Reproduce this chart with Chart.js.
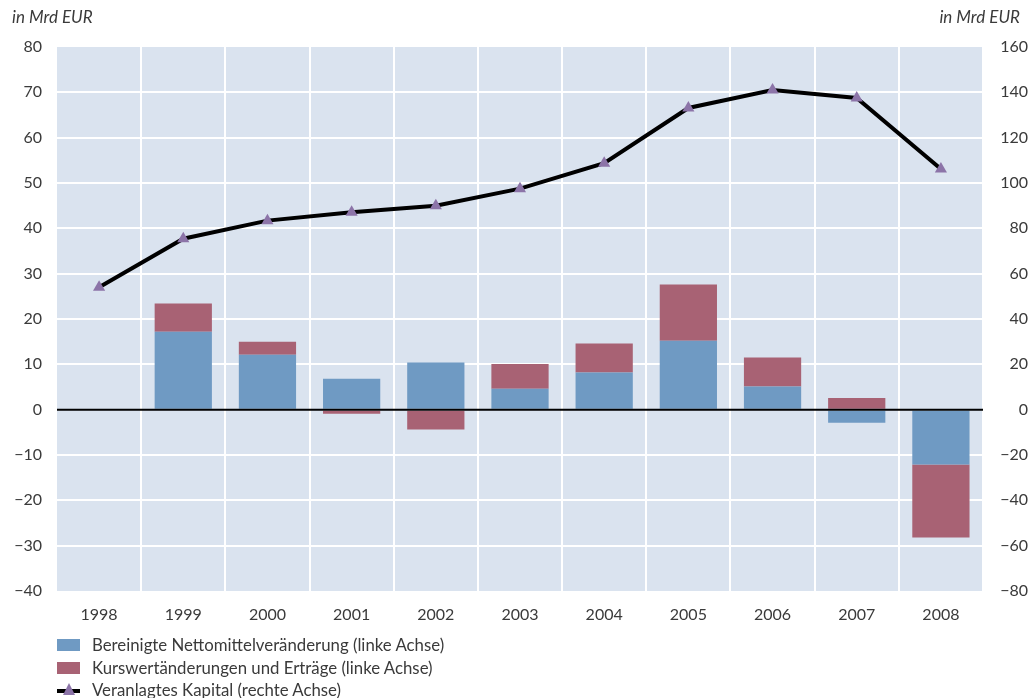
<!DOCTYPE html>
<html>
<head>
<meta charset="utf-8">
<script src="https://cdn.jsdelivr.net/npm/chart.js@4.4.1/dist/chart.umd.min.js"></script>
<style>
  body { margin: 0; background: #fff; font-family: Lato, "Open Sans", sans-serif; color: #3a3a3a; }
  #wrap { position: relative; width: 1033px; height: 698px; overflow: hidden; }
  #chart { position: absolute; left: 0; top: 0; }
  .unit { position: absolute; top: 6px; font-size: 17px; font-style: italic; color: #3a3a3a; }
  #legend { position: absolute; left: 57px; top: 634px; font-size: 16.8px; color: #3a3a3a; }
  #legend div { height: 22.5px; line-height: 22px; position: relative; padding-left: 35px; white-space: nowrap; }
  #legend .box { position: absolute; left: 0; top: 5px; width: 23px; height: 12px; }
  #legend .ln { position: absolute; left: 0; top: 10px; width: 23px; height: 4px; background: #000; }
  #legend .tri { position: absolute; left: 6px; top: 4px; width: 0; height: 0;
    border-left: 6px solid transparent; border-right: 6px solid transparent; border-bottom: 12px solid #8c74a8; }
</style>
</head>
<body>
<div id="wrap">
  <canvas id="chart" width="1033" height="698"></canvas>
  <div class="unit" style="left:12px;">in Mrd EUR</div>
  <div class="unit" style="right:13px;">in Mrd EUR</div>
  <div id="legend">
    <div><span class="box" style="background:#6f9ac3"></span>Bereinigte Nettomittelveränderung (linke Achse)</div>
    <div><span class="box" style="background:#a86274"></span>Kurswertänderungen und Erträge (linke Achse)</div>
    <div><span class="ln"></span><span class="tri"></span>Veranlagtes Kapital (rechte Achse)</div>
  </div>
</div>
<script>
var years = ["1998", "1999", "2000", "2001", "2002", "2003", "2004", "2005", "2006", "2007", "2008"];
var nettomittel = [null, 17.2, 12.1, 6.8, 10.4, 4.6, 8.2, 15.2, 5.1, -2.9, -12.1];
var kurswert = [null, 6.2, 2.9, -0.9, -4.4, 5.5, 6.4, 12.4, 6.4, 2.6, -16.1];
var kapital = [54, 75.4, 83.4, 87.1, 90.0, 97.5, 108.7, 133.1, 141, 137.5, 106.2];

var fontTicks = { family: "Lato, 'Open Sans', sans-serif", size: 16 };
var tickColor = "#3a3a3a";

function minus(v) {
	return v < 0 ? "\u2212" + Math.abs(v) : "" + v;
}

// plot background + zero line on top of the bars
var plotDecor = {
	id: "plotDecor",
	beforeDraw: function (chart) {
		var a = chart.chartArea, c = chart.ctx;
		c.save();
		c.fillStyle = "#dae3ef";
		c.fillRect(a.left, a.top, a.right - a.left, a.bottom - a.top);
		c.restore();
	},
	afterDatasetsDraw: function (chart) {
		var a = chart.chartArea, c = chart.ctx;
		var y0 = chart.scales.y.getPixelForValue(0);
		c.save();
		c.strokeStyle = "#000";
		c.lineWidth = 2;
		c.beginPath();
		c.moveTo(a.left, y0);
		c.lineTo(a.right, y0);
		c.stroke();
		c.restore();
	}
};

new Chart(document.getElementById("chart"), {
	type: "bar",
	data: {
		labels: years,
		datasets: [
			{
				type: "line",
				label: "Veranlagtes Kapital (rechte Achse)",
				data: kapital,
				yAxisID: "y1",
				borderColor: "#000",
				borderWidth: 4,
				pointStyle: "triangle",
				pointRadius: 7,
				pointBackgroundColor: "#8c74a8",
				pointBorderColor: "#8c74a8",
				pointBorderWidth: 0,
				tension: 0,
				order: 0
			},
			{
				label: "Bereinigte Nettomittelveränderung (linke Achse)",
				data: nettomittel,
				backgroundColor: "#6f9ac3",
				stack: "s",
				yAxisID: "y",
				barPercentage: 0.68,
				categoryPercentage: 1,
				order: 1
			},
			{
				label: "Kurswertänderungen und Erträge (linke Achse)",
				data: kurswert,
				backgroundColor: "#a86274",
				stack: "s",
				yAxisID: "y",
				barPercentage: 0.68,
				categoryPercentage: 1,
				order: 1
			}
		]
	},
	options: {
		responsive: false,
		animation: false,
		layout: { padding: { left: 0, right: 5, top: 47, bottom: 67 } },
		plugins: {
			legend: { display: false },
			tooltip: { enabled: false }
		},
		scales: {
			x: {
				stacked: true,
				offset: true,
				border: { display: false },
				grid: {
					offset: true,
					drawTicks: false,
					lineWidth: 2,
					color: function (ctx) {
						return (ctx.index === 0 || ctx.index === years.length) ? "rgba(0,0,0,0)" : "#fff";
					}
				},
				ticks: { color: tickColor, font: fontTicks, padding: 14, maxRotation: 0 },
				afterFit: function (s) { s.height = 40; }
			},
			y: {
				stacked: true,
				position: "left",
				min: -40,
				max: 80,
				border: { display: false },
				grid: {
					drawTicks: false,
					lineWidth: 2,
					color: function (ctx) {
						var v = ctx.tick.value;
						return (v === -40 || v === 80 || v === 0) ? "rgba(0,0,0,0)" : "#fff";
					}
				},
				ticks: { stepSize: 10, color: tickColor, font: fontTicks, padding: 15, callback: minus },
				afterFit: function (s) { s.width = 57; }
			},
			y1: {
				position: "right",
				min: -80,
				max: 160,
				border: { display: false },
				grid: { display: false, drawTicks: false },
				ticks: { stepSize: 20, color: tickColor, font: fontTicks, crossAlign: "far", callback: minus },
				afterFit: function (s) { s.width = 45; }
			}
		}
	},
	plugins: [plotDecor]
});
</script>
</body>
</html>
